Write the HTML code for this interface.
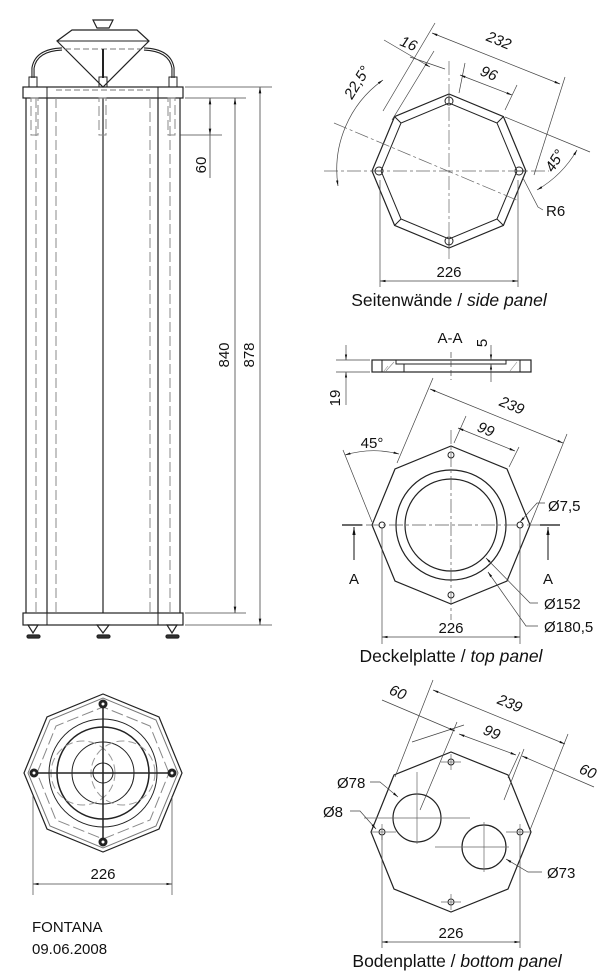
<!DOCTYPE html>
<html><head><meta charset="utf-8"><style>
html,body{margin:0;padding:0;background:#fff;width:615px;height:980px;overflow:hidden}
svg{display:block}
text{font-family:"Liberation Sans",sans-serif;font-size:15px;fill:#111}
.it{font-style:italic}
.cap{font-size:17.5px}
</style></head><body>
<svg width="615" height="980" viewBox="0 0 615 980" xmlns="http://www.w3.org/2000/svg">
<defs>
<marker id="a" viewBox="0 0 10 10" refX="10" refY="5" markerWidth="8" markerHeight="8" orient="auto-start-reverse"><path d="M0,3 L10,5 L0,7z" fill="#111"/></marker>
</defs>
<g fill="none" stroke="#222" stroke-width="1">
<path d="M93,20 L113,20 L109,28 L97,28z" stroke-width="1.2"/>
<path d="M72,30 L137,30 L149,41 L103,87 L57,41z" stroke-width="1.2"/>
<line x1="57" y1="41" x2="149" y2="41"/>
<line x1="65" y1="49" x2="141" y2="49" stroke-dasharray="6,3" stroke="#777"/>
<line x1="103" y1="49" x2="103" y2="78" stroke-width="2"/>
<path d="M33,78 L33,68 Q36,50 62,49" stroke-width="3.2"/>
<path d="M33,78 L33,68 Q36,50 62,49" stroke-width="1" stroke="#fff"/>
<path d="M173,78 L173,68 Q170,50 144,49" stroke-width="3.2"/>
<path d="M173,78 L173,68 Q170,50 144,49" stroke-width="1" stroke="#fff"/>
<rect x="29" y="77" width="8" height="10"/><rect x="99" y="77" width="8" height="10"/><rect x="169" y="77" width="8" height="10"/>
<rect x="23" y="87" width="160" height="11" stroke-width="1.2"/>
<line x1="47" y1="87" x2="47" y2="98"/><line x1="158" y1="87" x2="158" y2="98"/>
<line x1="56" y1="90" x2="150" y2="90" stroke-dasharray="6,3" stroke="#777"/>
<line x1="26" y1="98" x2="26" y2="613" stroke-width="1.2"/>
<line x1="47" y1="98" x2="47" y2="613" stroke-width="1.2"/>
<line x1="158" y1="98" x2="158" y2="613" stroke-width="1.2"/>
<line x1="180" y1="98" x2="180" y2="613" stroke-width="1.2"/>
<line x1="103" y1="98" x2="103" y2="613" stroke-width="1.2"/>
<g stroke="#888" stroke-dasharray="10,4">
<line x1="36" y1="98" x2="36" y2="613"/><line x1="56" y1="98" x2="56" y2="613"/>
<line x1="150" y1="98" x2="150" y2="613"/><line x1="170" y1="98" x2="170" y2="613"/>
<rect x="31" y="98" width="7" height="37"/><rect x="99" y="98" width="7" height="37"/><rect x="168" y="98" width="7" height="37"/>
</g>
<rect x="23" y="613" width="160" height="12" stroke-width="1.2"/>
<line x1="47" y1="613" x2="47" y2="625"/><line x1="158" y1="613" x2="158" y2="625"/>
<g stroke-width="1.2">
<path d="M28,625 L38,625 L33,633z"/><rect x="27" y="635" width="13" height="3" rx="1.5" fill="#333"/>
<path d="M97,625 L109,625 L103,633z"/><rect x="97" y="635" width="13" height="3" rx="1.5" fill="#333"/>
<path d="M167,625 L177,625 L172,633z"/><rect x="166" y="635" width="13" height="3" rx="1.5" fill="#333"/>
</g>
<g stroke="#444" stroke-width="0.8">
<line x1="185" y1="87" x2="272" y2="87"/><line x1="185" y1="98" x2="246" y2="98"/>
<line x1="180" y1="135" x2="222" y2="135"/>
<line x1="185" y1="613" x2="246" y2="613"/><line x1="185" y1="625" x2="272" y2="625"/>
<line x1="210" y1="98" x2="210" y2="135" marker-start="url(#a)" marker-end="url(#a)"/>
<line x1="210" y1="135" x2="210" y2="178"/>
<line x1="235" y1="98" x2="235" y2="613" marker-start="url(#a)" marker-end="url(#a)"/>
<line x1="260" y1="87" x2="260" y2="625" marker-start="url(#a)" marker-end="url(#a)"/>
</g>
<g transform="translate(449,171)">
<polygon points="77,0 54.4,54.4 0,77 -54.4,54.4 -77,0 -54.4,-54.4 0,-77 54.4,-54.4" stroke-width="1.2"/>
<polygon points="68,0 48,48 0,68 -48,48 -68,0 -48,-48 0,-68 48,-48"/>
<path d="M77,0L68,0M54.4,54.4L48,48M0,77L0,68M-54.4,54.4L-48,48M-77,0L-68,0M-54.4,-54.4L-48,-48M0,-77L0,-68M54.4,-54.4L48,-48"/>
<circle cx="0" cy="-70" r="4"/><circle cx="0" cy="70" r="4"/><circle cx="-70" cy="0" r="4"/><circle cx="70" cy="0" r="4"/>
<g stroke="#666" stroke-width="0.7" stroke-dasharray="14,3,3,3">
<line x1="-125" y1="0" x2="100" y2="0"/><line x1="0" y1="-110" x2="0" y2="90"/>
<line x1="-115" y1="-48" x2="70" y2="30"/>
</g>
</g>
<g stroke="#444" stroke-width="0.7">
<line x1="380" y1="180" x2="380" y2="287"/><line x1="518" y1="180" x2="518" y2="287"/>
<line x1="380" y1="281" x2="518" y2="281" marker-start="url(#a)" marker-end="url(#a)"/>
<line x1="383" y1="111" x2="435" y2="23"/><line x1="392" y1="120" x2="434" y2="51"/>
<line x1="459" y1="93" x2="465" y2="63"/><line x1="505" y1="110" x2="517" y2="85"/>
<line x1="534" y1="175" x2="565" y2="77"/><line x1="505" y1="117" x2="590" y2="152"/>
<line x1="384" y1="40" x2="430" y2="67" marker-end="url(#a)"/><line x1="410" y1="57" x2="445" y2="69"/>
<line x1="432" y1="33" x2="560" y2="84" marker-start="url(#a)" marker-end="url(#a)"/>
<line x1="460" y1="75" x2="512" y2="95" marker-start="url(#a)" marker-end="url(#a)"/>
<path d="M383,80 A110,110 0 0 0 338,186" marker-start="url(#a)" marker-end="url(#a)"/>
<path d="M577,150 A110,110 0 0 1 537,190" marker-start="url(#a)" marker-end="url(#a)"/>
<path d="M523,178 L538,207 L543,210"/>
</g>
<rect x="372" y="360" width="159" height="12" stroke-width="1.2"/>
<path d="M396,360 L396,364 L506,364 L506,360"/><line x1="404" y1="364" x2="404" y2="372"/>
<line x1="382" y1="360" x2="382" y2="372"/><line x1="520" y1="360" x2="520" y2="372"/>
<g stroke="#888" stroke-width="0.6"><path d="M386,371 L394,362M510,371 L517,362M384,371 L388,366"/></g>
<g stroke="#444" stroke-width="0.7">
<line x1="451" y1="352" x2="451" y2="380" stroke-dasharray="6,3"/>
<line x1="336" y1="360" x2="370" y2="360"/><line x1="336" y1="372" x2="370" y2="372"/>
<line x1="346" y1="345" x2="346" y2="360" marker-end="url(#a)"/><line x1="346" y1="372" x2="346" y2="405" marker-start="url(#a)"/>
<line x1="491" y1="345" x2="491" y2="360" marker-end="url(#a)"/><line x1="491" y1="364" x2="491" y2="382" marker-start="url(#a)"/>
</g>
<g transform="translate(451,525)">
<polygon points="79,0 56,-56 0,-79 -56,-56 -79,0 -56,56 0,79 56,56" stroke-width="1.2"/>
<circle r="55" stroke-width="1.2"/><circle r="46" stroke-width="1.2"/>
<circle cx="-69" r="3"/><circle cx="69" r="3"/><circle cy="-70" r="3"/><circle cy="70" r="3"/>
<g stroke="#555" stroke-width="0.7" stroke-dasharray="14,3,3,3"><line x1="-108" y1="0" x2="108" y2="0"/><line x1="0" y1="-95" x2="0" y2="95"/></g>
</g>
<g stroke="#111" stroke-width="1.2"><line x1="342" y1="525" x2="362" y2="525"/><line x1="540" y1="525" x2="560" y2="525"/></g>
<g stroke="#111"><line x1="354" y1="560" x2="354" y2="527" marker-end="url(#a)"/><line x1="548" y1="560" x2="548" y2="527" marker-end="url(#a)"/></g>
<g stroke="#444" stroke-width="0.7">
<line x1="382" y1="528" x2="382" y2="644"/><line x1="520" y1="528" x2="520" y2="644"/>
<line x1="382" y1="637" x2="520" y2="637" marker-start="url(#a)" marker-end="url(#a)"/>
<line x1="343" y1="450" x2="372" y2="522"/><line x1="397" y1="463" x2="433" y2="378"/>
<line x1="509" y1="467" x2="519" y2="447"/><line x1="454" y1="443" x2="466" y2="416"/>
<line x1="530" y1="525" x2="567" y2="434"/>
<line x1="430" y1="389" x2="563" y2="443" marker-start="url(#a)" marker-end="url(#a)"/>
<line x1="458" y1="428" x2="515" y2="451" marker-start="url(#a)" marker-end="url(#a)"/>
<path d="M345,455 A100,100 0 0 1 399,454" marker-start="url(#a)" marker-end="url(#a)"/>
<path d="M520,522 L537,503 L545,503" marker-start="url(#a)"/>
<path d="M486,558 L530,603 L538,603" marker-start="url(#a)"/>
<path d="M488,572 L526,626 L538,626" marker-start="url(#a)"/>
</g>
<g transform="translate(451,832)">
<polygon points="80,0 57,-57 0,-80 -57,-57 -80,0 -57,57 0,80 57,57" stroke-width="1.2"/>
<circle cx="-69" r="3"/><circle cx="69" r="3"/><circle cy="-70" r="3"/><circle cy="70" r="3"/>
<circle cx="-34" cy="-14" r="24" stroke-width="1.2"/><circle cx="33" cy="15" r="22" stroke-width="1.2"/>
<g stroke="#666" stroke-width="0.7"><path d="M-87,-14H19M-34,-40V-60M-34,-40V12M-16,15H58M33,-10V40M-79,0H-55M55,0H79M-69,-8V8M69,-8V8M-10,-70H10M0,-78V-62M-10,70H10M0,62V78"/></g>
</g>
<g stroke="#444" stroke-width="0.7">
<line x1="382" y1="836" x2="382" y2="948"/><line x1="520" y1="836" x2="520" y2="948"/>
<line x1="382" y1="942" x2="520" y2="942" marker-start="url(#a)" marker-end="url(#a)"/>
<line x1="395" y1="777" x2="433" y2="680"/><line x1="420" y1="810" x2="457" y2="722"/>
<line x1="412" y1="742" x2="464" y2="725"/>
<line x1="508" y1="778" x2="520" y2="752"/><line x1="504" y1="800" x2="524" y2="749"/>
<line x1="530" y1="830" x2="568" y2="734"/>
<line x1="433" y1="690" x2="565" y2="744" marker-start="url(#a)" marker-end="url(#a)"/>
<line x1="459" y1="734" x2="516" y2="755" marker-start="url(#a)" marker-end="url(#a)"/>
<line x1="382" y1="700" x2="455" y2="731" marker-end="url(#a)"/>
<line x1="522" y1="756" x2="594" y2="787" marker-start="url(#a)"/>
<path d="M370,782 L380,782 L398,797" marker-end="url(#a)"/>
<path d="M350,811 L360,811 L376,829" marker-end="url(#a)"/>
<path d="M542,872 L528,872 L506,859" marker-end="url(#a)"/>
</g>
<g transform="translate(103,773)">
<polygon points="79,0 56,-56 0,-79 -56,-56 -79,0 -56,56 0,79 56,56" stroke-width="1.2"/>
<polygon points="75,0 53,-53 0,-75 -53,-53 -75,0 -53,53 0,75 53,53" stroke="#777"/>
<polygon points="66,0 47,-47 0,-66 -47,-47 -66,0 -47,47 0,66 47,47" stroke="#888" stroke-dasharray="12,4"/>
<circle r="54"/><circle r="46" stroke-width="1.5"/><circle r="31"/><circle r="10"/>
<circle cx="-20" cy="0" r="32" stroke="#999" stroke-dasharray="8,4"/><circle cx="20" cy="0" r="32" stroke="#999" stroke-dasharray="8,4"/>
<line x1="-69" y1="0" x2="69" y2="0" stroke-width="1.5"/><line x1="0" y1="-69" x2="0" y2="69" stroke-width="1.5"/>
<g fill="#222"><circle cx="-69" r="4"/><circle cx="69" r="4"/><circle cy="-69" r="4"/><circle cy="69" r="4"/></g>
<g fill="#fff" stroke="none"><circle cx="-69" r="1.5"/><circle cx="69" r="1.5"/><circle cy="-69" r="1.5"/><circle cy="69" r="1.5"/></g>
</g>
<g stroke="#444" stroke-width="0.7">
<line x1="33" y1="796" x2="33" y2="895"/><line x1="172" y1="796" x2="172" y2="895"/>
<line x1="33" y1="884" x2="172" y2="884" marker-start="url(#a)" marker-end="url(#a)"/>
</g>
</g>
<text x="206" y="165" transform="rotate(-90 206 165)" text-anchor="middle">60</text>
<text x="229" y="355" transform="rotate(-90 229 355)" text-anchor="middle">840</text>
<text x="254" y="355" transform="rotate(-90 254 355)" text-anchor="middle">878</text>
<text x="449" y="277" text-anchor="middle">226</text>
<text x="449" y="306" text-anchor="middle" class="cap">Seitenwände / <tspan class="it">side panel</tspan></text>
<text x="399" y="45" class="it" transform="rotate(22.5 399 45)">16</text>
<text x="497" y="45" class="it" transform="rotate(22.5 497 45)" text-anchor="middle">232</text>
<text x="487" y="78" class="it" transform="rotate(22.5 487 78)" text-anchor="middle">96</text>
<text x="352" y="100" class="it" transform="rotate(-58 352 100)">22,5°</text>
<text x="553" y="173" class="it" transform="rotate(-58 553 173)">45°</text>
<text x="546" y="216">R6</text>
<text x="450" y="343" text-anchor="middle">A-A</text>
<text x="487" y="343" transform="rotate(-90 487 343)" text-anchor="middle">5</text>
<text x="340" y="398" transform="rotate(-90 340 398)" text-anchor="middle">19</text>
<text x="510" y="410" class="it" transform="rotate(22.5 510 410)" text-anchor="middle">239</text>
<text x="484" y="434" class="it" transform="rotate(22.5 484 434)" text-anchor="middle">99</text>
<text x="372" y="448" text-anchor="middle">45°</text>
<text x="548" y="511">Ø7,5</text>
<text x="544" y="609">Ø152</text>
<text x="544" y="632">Ø180,5</text>
<text x="354" y="584" text-anchor="middle">A</text>
<text x="548" y="584" text-anchor="middle">A</text>
<text x="451" y="633" text-anchor="middle">226</text>
<text x="451" y="662" text-anchor="middle" class="cap">Deckelplatte / <tspan class="it">top panel</tspan></text>
<text x="396" y="697" class="it" transform="rotate(22.5 396 697)" text-anchor="middle">60</text>
<text x="508" y="708" class="it" transform="rotate(22.5 508 708)" text-anchor="middle">239</text>
<text x="490" y="737" class="it" transform="rotate(22.5 490 737)" text-anchor="middle">99</text>
<text x="586" y="776" class="it" transform="rotate(22.5 586 776)" text-anchor="middle">60</text>
<text x="337" y="788">Ø78</text>
<text x="323" y="817">Ø8</text>
<text x="547" y="878">Ø73</text>
<text x="451" y="938" text-anchor="middle">226</text>
<text x="457" y="967" text-anchor="middle" class="cap">Bodenplatte / <tspan class="it">bottom panel</tspan></text>
<text x="103" y="879" text-anchor="middle">226</text>
<text x="32" y="932">FONTANA</text>
<text x="32" y="954">09.06.2008</text>
</svg>
</body></html>
